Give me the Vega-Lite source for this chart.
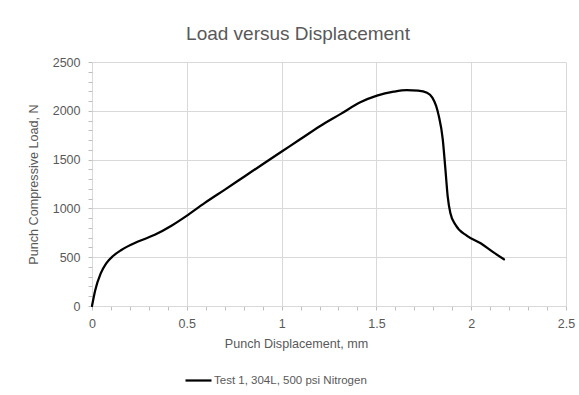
{
  "$schema": "https://vega.github.io/schema/vega-lite/v6.json",
  "width": 474,
  "height": 244,
  "autosize": {"type": "none"},
  "padding": {"left": 92, "top": 62, "right": 13, "bottom": 89},
  "background": "white",
  "title": {
    "text": "Load versus Displacement",
    "font": "Liberation Sans",
    "fontSize": 19,
    "fontWeight": "normal",
    "color": "#595959",
    "anchor": "middle",
    "dx": -31,
    "offset": 12
  },
  "config": {
    "view": {"stroke": null},
    "font": "Liberation Sans"
  },
  "data": {
    "values": [
      {"x": 0, "y": 0, "series": "Test 1, 304L, 500 psi Nitrogen"},
      {"x": 0.017, "y": 162, "series": "Test 1, 304L, 500 psi Nitrogen"},
      {"x": 0.046, "y": 334, "series": "Test 1, 304L, 500 psi Nitrogen"},
      {"x": 0.075, "y": 437, "series": "Test 1, 304L, 500 psi Nitrogen"},
      {"x": 0.111, "y": 512, "series": "Test 1, 304L, 500 psi Nitrogen"},
      {"x": 0.155, "y": 574, "series": "Test 1, 304L, 500 psi Nitrogen"},
      {"x": 0.243, "y": 660, "series": "Test 1, 304L, 500 psi Nitrogen"},
      {"x": 0.331, "y": 729, "series": "Test 1, 304L, 500 psi Nitrogen"},
      {"x": 0.419, "y": 822, "series": "Test 1, 304L, 500 psi Nitrogen"},
      {"x": 0.495, "y": 918, "series": "Test 1, 304L, 500 psi Nitrogen"},
      {"x": 0.595, "y": 1056, "series": "Test 1, 304L, 500 psi Nitrogen"},
      {"x": 0.701, "y": 1193, "series": "Test 1, 304L, 500 psi Nitrogen"},
      {"x": 0.806, "y": 1330, "series": "Test 1, 304L, 500 psi Nitrogen"},
      {"x": 0.912, "y": 1468, "series": "Test 1, 304L, 500 psi Nitrogen"},
      {"x": 1.005, "y": 1588, "series": "Test 1, 304L, 500 psi Nitrogen"},
      {"x": 1.098, "y": 1708, "series": "Test 1, 304L, 500 psi Nitrogen"},
      {"x": 1.204, "y": 1845, "series": "Test 1, 304L, 500 psi Nitrogen"},
      {"x": 1.31, "y": 1966, "series": "Test 1, 304L, 500 psi Nitrogen"},
      {"x": 1.415, "y": 2087, "series": "Test 1, 304L, 500 psi Nitrogen"},
      {"x": 1.503, "y": 2155, "series": "Test 1, 304L, 500 psi Nitrogen"},
      {"x": 1.591, "y": 2196, "series": "Test 1, 304L, 500 psi Nitrogen"},
      {"x": 1.66, "y": 2212, "series": "Test 1, 304L, 500 psi Nitrogen"},
      {"x": 1.72, "y": 2207, "series": "Test 1, 304L, 500 psi Nitrogen"},
      {"x": 1.767, "y": 2185, "series": "Test 1, 304L, 500 psi Nitrogen"},
      {"x": 1.795, "y": 2135, "series": "Test 1, 304L, 500 psi Nitrogen"},
      {"x": 1.815, "y": 2050, "series": "Test 1, 304L, 500 psi Nitrogen"},
      {"x": 1.829, "y": 1948, "series": "Test 1, 304L, 500 psi Nitrogen"},
      {"x": 1.85, "y": 1708, "series": "Test 1, 304L, 500 psi Nitrogen"},
      {"x": 1.864, "y": 1399, "series": "Test 1, 304L, 500 psi Nitrogen"},
      {"x": 1.876, "y": 1124, "series": "Test 1, 304L, 500 psi Nitrogen"},
      {"x": 1.89, "y": 953, "series": "Test 1, 304L, 500 psi Nitrogen"},
      {"x": 1.917, "y": 832, "series": "Test 1, 304L, 500 psi Nitrogen"},
      {"x": 1.978, "y": 719, "series": "Test 1, 304L, 500 psi Nitrogen"},
      {"x": 2.05, "y": 643, "series": "Test 1, 304L, 500 psi Nitrogen"},
      {"x": 2.112, "y": 557, "series": "Test 1, 304L, 500 psi Nitrogen"},
      {"x": 2.173, "y": 478, "series": "Test 1, 304L, 500 psi Nitrogen"}
    ]
  },
  "mark": {"type": "line", "interpolate": "monotone", "strokeWidth": 2.25, "strokeCap": "round", "strokeJoin": "round"},
  "encoding": {
    "x": {
      "field": "x",
      "type": "quantitative",
      "scale": {"domain": [0, 2.5], "nice": false, "zero": false},
      "axis": {
        "title": "Punch Displacement, mm",
        "values": [0, 0.1, 0.2, 0.3, 0.4, 0.5, 0.6, 0.7, 0.8, 0.9, 1, 1.1, 1.2, 1.3, 1.4, 1.5, 1.6, 1.7, 1.8, 1.9, 2, 2.1, 2.2, 2.3, 2.4, 2.5],
        "format": ".1~f",
        "labelExpr": "abs(datum.value*2 - round(datum.value*2)) < 0.001 ? datum.label : ''",
        "gridOpacity": {"condition": {"test": "abs(datum.value*2 - round(datum.value*2)) < 0.001", "value": 1}, "value": 0},
        "gridColor": "#d9d9d9",
        "gridWidth": 1,
        "domainColor": "#d9d9d9",
        "domainWidth": 1,
        "tickColor": "#bfbfbf",
        "tickSize": 4,
        "labelPadding": 7,
        "labelFontSize": 12.5,
        "labelColor": "#595959",
        "labelFont": "Liberation Sans",
        "labelFlush": false,
        "labelOverlap": false,
        "titleFont": "Liberation Sans",
        "titleFontSize": 12.6,
        "titleFontWeight": "normal",
        "titleColor": "#595959",
        "titleX": 204,
        "titleY": 37,
        "titleAlign": "center",
        "titleBaseline": "middle"
      }
    },
    "y": {
      "field": "y",
      "type": "quantitative",
      "scale": {"domain": [0, 2500], "nice": false},
      "axis": {
        "title": "Punch Compressive Load, N",
        "values": [0, 100, 200, 300, 400, 500, 600, 700, 800, 900, 1000, 1100, 1200, 1300, 1400, 1500, 1600, 1700, 1800, 1900, 2000, 2100, 2200, 2300, 2400, 2500],
        "labelExpr": "datum.value % 500 === 0 ? datum.label : ''",
        "format": "d",
        "gridOpacity": {"condition": {"test": "datum.value % 500 === 0", "value": 1}, "value": 0},
        "gridColor": "#d9d9d9",
        "gridWidth": 1,
        "domain": false,
        "tickColor": "#bfbfbf",
        "tickSize": 4,
        "labelPadding": 8,
        "labelFontSize": 12.5,
        "labelColor": "#595959",
        "labelFont": "Liberation Sans",
        "labelFlush": false,
        "labelOverlap": false,
        "titleFont": "Liberation Sans",
        "titleFontSize": 12.6,
        "titleFontWeight": "normal",
        "titleColor": "#595959",
        "titleX": -59,
        "titleY": 122,
        "titleAngle": -90,
        "titleAlign": "center",
        "titleBaseline": "middle"
      }
    },
    "color": {
      "field": "series",
      "type": "nominal",
      "scale": {"range": ["#000000"]},
      "legend": {
        "title": null,
        "orient": "none",
        "legendX": 92,
        "legendY": 304,
        "symbolType": "stroke",
        "symbolSize": 676,
        "symbolStrokeWidth": 2.25,
        "labelFont": "Liberation Sans",
        "labelFontSize": 11.5,
        "labelColor": "#595959",
        "labelOffset": 1,
        "padding": 0
      }
    }
  }
}
